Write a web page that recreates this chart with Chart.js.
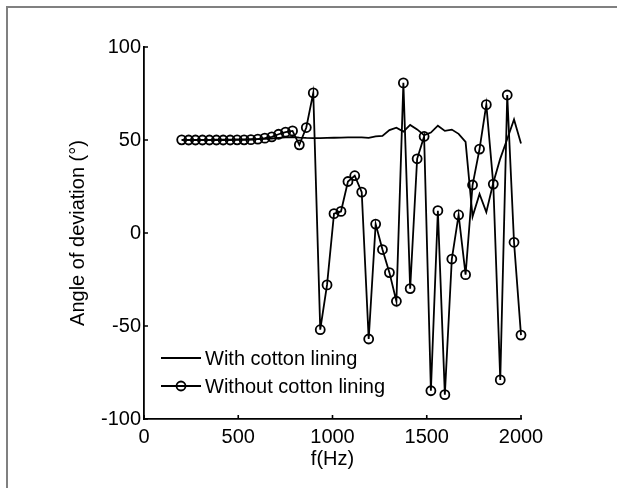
<!DOCTYPE html>
<html>
<head>
<meta charset="utf-8">
<title>Angle of deviation</title>
<script src="https://cdn.jsdelivr.net/npm/chart.js@4.4.0/dist/chart.umd.min.js"></script>
<style>
    html, body { margin: 0; padding: 0; background: #fff; }
    #grafico { display: block; }
</style>
</head>
<body>
<canvas id="grafico" width="617" height="488"></canvas>
<script>
// Frequencies (Hz) of the measured points
const freqHz = [200, 237, 273, 310, 347, 384, 420, 457, 494, 531,
    567, 604, 641, 678, 714, 751, 788, 824, 861, 898,
    935, 971, 1008, 1045, 1082, 1118, 1155, 1192, 1229, 1265,
    1302, 1339, 1376, 1412, 1449, 1486, 1522, 1559, 1596, 1633,
    1669, 1706, 1743, 1780, 1816, 1853, 1890, 1927, 1963, 2000];

// Angle of deviation (deg), with cotton lining
const withLining = [50.0, 50.0, 50.1, 50.1, 50.1, 50.2, 50.2, 50.2, 50.3, 50.3,
    50.4, 50.5, 50.6, 50.8, 51.1, 51.4, 51.6, 51.3, 51.1, 51.0,
    51.0, 51.1, 51.2, 51.3, 51.4, 51.4, 51.4, 51.1, 52.0, 52.2,
    55.3, 56.6, 54.5, 58.1, 55.7, 52.6, 54.0, 57.7, 54.9, 55.6,
    53.3, 49.0, 8.8, 21.0, 11.2, 27.0, 40.0, 50.5, 61.0, 48.1];

// Angle of deviation (deg), without cotton lining
const withoutLining = [50.1, 50.0, 50.0, 50.0, 50.0, 50.0, 50.0, 50.0, 50.1, 50.1,
    50.2, 50.5, 51.0, 51.7, 53.1, 54.2, 54.9, 47.4, 56.7, 75.3,
    -52.0, -27.9, 10.4, 11.6, 27.7, 30.8, 22.0, -57.0, 4.8, -8.9,
    -21.3, -36.7, 80.7, -29.9, 39.9, 51.9, -84.8, 12.0, -86.9, -14.0,
    9.7, -22.4, 25.8, 45.1, 69.0, 26.3, -79.0, 74.2, -5.0, -54.9];

const xTicks = [0, 500, 1000, 1500, 2000];
const yTicks = [-100, -50, 0, 50, 100];
const seriesNames = ['With cotton lining', 'Without cotton lining'];

const FONT = { family: '"Liberation Sans", Arial, Helvetica, sans-serif', size: 20 };

// Build {x, y} points from the frequency list
function toPoints(values) {
    return freqHz.map((f, i) => ({ x: f, y: values[i] }));
}

// Frame, inward tick marks and the legend inside the plot
const extras = {
    id: 'extras',
    beforeDraw(chart) {
        const ctx = chart.ctx;
        ctx.save();
        ctx.fillStyle = '#fff';
        ctx.fillRect(0, 0, chart.width, chart.height);
        ctx.strokeStyle = '#808080';
        ctx.lineWidth = 2;
        ctx.beginPath();
        ctx.moveTo(7, chart.height);
        ctx.lineTo(7, 7);
        ctx.lineTo(chart.width, 7);
        ctx.stroke();
        ctx.restore();
    },
    afterDraw(chart) {
        const ctx = chart.ctx;
        const area = chart.chartArea;
        const x = chart.scales.x;
        const y = chart.scales.y;
        ctx.save();
        ctx.strokeStyle = '#000';
        ctx.lineWidth = 1.6;
        ctx.beginPath();
        xTicks.forEach(v => {
            const px = x.getPixelForValue(v);
            ctx.moveTo(px, area.bottom);
            ctx.lineTo(px, area.bottom - 4);
        });
        yTicks.forEach(v => {
            const py = y.getPixelForValue(v);
            ctx.moveTo(area.left, py);
            ctx.lineTo(area.left + 4, py);
        });
        ctx.stroke();

        // legend
        const lx = area.left + 17;
        const rows = [area.bottom - 61, area.bottom - 33];
        ctx.font = FONT.size + 'px ' + FONT.family;
        ctx.fillStyle = '#000';
        ctx.textBaseline = 'middle';
        ctx.textAlign = 'left';
        ctx.lineWidth = 1.8;
        seriesNames.forEach((name, i) => {
            ctx.beginPath();
            ctx.moveTo(lx, rows[i]);
            ctx.lineTo(lx + 40, rows[i]);
            ctx.stroke();
            if (i === 1) {
                ctx.beginPath();
                ctx.arc(lx + 20, rows[i], 4.5, 0, Math.PI * 2);
                ctx.stroke();
            }
            ctx.fillText(name, lx + 44, rows[i] + 1);
        });
        ctx.restore();
    }
};

const ctxGrafico = document.getElementById('grafico').getContext('2d');

new Chart(ctxGrafico, {
    type: 'line',
    data: {
        datasets: [{
            label: seriesNames[0],
            data: toPoints(withLining),
            borderColor: '#000',
            borderWidth: 1.8,
            pointRadius: 0,
            tension: 0,
            clip: false
        }, {
            label: seriesNames[1],
            data: toPoints(withoutLining),
            borderColor: '#000',
            borderWidth: 1.8,
            pointRadius: 4.5,
            pointBorderWidth: 1.8,
            pointBorderColor: '#000',
            pointBackgroundColor: 'rgba(0,0,0,0)',
            tension: 0,
            clip: false
        }]
    },
    options: {
        responsive: false,
        animation: false,
        devicePixelRatio: 1,
        layout: { padding: { left: 0, right: 96, top: 47, bottom: 0 } },
        plugins: {
            legend: { display: false },
            tooltip: { enabled: false }
        },
        scales: {
            x: {
                type: 'linear',
                min: 0,
                max: 2000,
                afterBuildTicks: s => { s.ticks = xTicks.map(v => ({ value: v })); },
                afterFit: s => { s.height = 69; },
                grid: { display: false, drawTicks: false },
                border: { display: true, color: '#000', width: 1.8 },
                ticks: { font: FONT, color: '#000', padding: 6, maxRotation: 0, callback: v => String(v) },
                title: { display: true, text: 'f(Hz)', font: FONT, color: '#000', padding: { top: 0, bottom: 17 } }
            },
            y: {
                type: 'linear',
                min: -100,
                max: 100,
                afterBuildTicks: s => { s.ticks = yTicks.map(v => ({ value: v })); },
                afterFit: s => { s.width = 144; },
                grid: { display: false, drawTicks: false },
                border: { display: true, color: '#000', width: 1.8 },
                ticks: { font: FONT, color: '#000', padding: 3, callback: v => String(v) },
                title: { display: true, text: 'Angle of deviation (°)', font: FONT, color: '#000', padding: { top: 66, bottom: 0 } }
            }
        }
    },
    plugins: [extras]
});
</script>
</body>
</html>
